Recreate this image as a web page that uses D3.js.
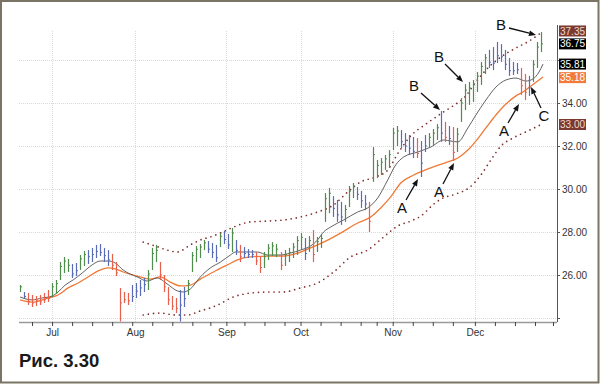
<!DOCTYPE html>
<html>
<head>
<meta charset="utf-8">
<script src="https://cdn.jsdelivr.net/npm/d3@7"></script>
<style>
  body { margin: 0; background: #fff; }
  text { font-family: "Liberation Sans", Arial, sans-serif; }
</style>
</head>
<body>
<div id="chart"></div>
<script>
// daily bars, late June .. mid December (index = trading day)
const highs = [
  25.53, 25.21, 25.16, 25.07, 25.02, 25.07, 25.16, 25.30, 25.63, 25.77,
  26.60, 26.84, 26.74, 26.51, 26.56, 26.93, 27.12, 27.16, 27.26, 27.40,
  27.44, 27.26, 27.16, 26.98, 26.60, 25.40, 25.21, 25.16, 25.53, 25.63,
  25.77, 25.86, 26.23, 27.26, 27.40, 26.60, 26.00, 25.44, 25.02, 24.93,
  25.30, 25.44, 25.77, 27.07, 27.35, 27.44, 27.63, 27.58, 27.49, 27.40,
  27.95, 28.05, 27.91, 28.19, 27.63, 27.40, 27.30, 27.21, 27.16, 27.07,
  26.88, 27.07, 27.44, 27.53, 27.44, 27.07, 27.16, 27.26, 27.49, 27.81,
  27.95, 27.72, 27.81, 28.09, 27.77, 27.91, 29.81, 30.05, 29.67, 29.49,
  29.40, 29.26, 30.14, 30.28, 30.09, 29.91, 29.72, 29.40, 31.95, 31.35,
  31.44, 31.58, 31.81, 32.84, 32.93, 32.74, 32.60, 32.51, 32.42, 32.37,
  32.23, 32.51, 32.60, 32.79, 33.02, 33.63, 33.12, 32.93, 32.88, 32.84,
  34.23, 34.88, 34.98, 35.07, 35.44, 35.91, 36.28, 36.47, 36.60, 36.84,
  36.74, 36.47, 36.09, 35.91, 35.86, 35.63, 35.35, 35.26, 36.00, 36.84, 37.30
];
const lows = [
  25.21, 24.93, 24.60, 24.51, 24.56, 24.60, 24.70, 24.74, 24.98, 25.12,
  25.77, 26.09, 26.14, 25.86, 25.95, 26.23, 26.42, 26.51, 26.60, 26.79,
  26.88, 26.60, 26.42, 26.23, 25.95, 23.81, 24.70, 24.60, 24.74, 24.93,
  25.02, 25.21, 25.30, 26.23, 26.60, 25.77, 25.21, 24.60, 24.37, 24.23,
  23.81, 24.51, 25.07, 26.14, 26.60, 26.79, 27.16, 27.02, 26.79, 26.60,
  27.30, 27.44, 27.21, 27.07, 26.93, 26.60, 26.79, 26.79, 26.79, 26.47,
  26.09, 26.33, 26.70, 26.88, 26.84, 26.23, 26.42, 26.60, 26.79, 26.93,
  27.16, 26.70, 27.07, 26.60, 27.07, 27.26, 28.47, 28.88, 28.70, 28.47,
  28.33, 28.47, 29.16, 29.58, 29.49, 29.12, 29.02, 28.00, 30.33, 30.51,
  30.65, 30.88, 30.98, 31.81, 32.00, 31.91, 31.72, 31.58, 31.44, 31.44,
  30.56, 31.72, 31.91, 32.05, 32.28, 32.19, 32.19, 32.05, 31.30, 31.72,
  33.12, 33.67, 33.91, 34.05, 34.51, 34.84, 35.35, 35.63, 35.53, 35.86,
  35.91, 35.53, 35.26, 35.30, 35.35, 34.37, 34.14, 34.33, 34.98, 35.63, 36.37
];
const closes = [
  25.45, 25.00, 24.75, 24.70, 24.80, 24.75, 24.85, 24.90, 25.45, 25.60,
  26.40, 26.65, 26.45, 26.05, 26.20, 26.75, 26.95, 26.85, 26.95, 27.10,
  27.05, 26.90, 26.70, 26.45, 26.10, 24.70, 24.85, 24.80, 25.00, 25.25,
  25.40, 25.55, 26.05, 27.00, 27.15, 26.00, 25.45, 24.85, 24.55, 24.45,
  24.60, 24.90, 25.60, 26.90, 27.20, 27.30, 27.50, 27.20, 27.05, 26.80,
  27.80, 27.65, 27.40, 27.95, 27.15, 26.85, 27.00, 26.95, 26.95, 26.65,
  26.35, 26.85, 27.25, 27.35, 27.20, 26.45, 26.95, 27.05, 27.30, 27.60,
  27.75, 27.00, 27.60, 26.95, 27.55, 27.70, 29.55, 29.80, 29.10, 28.80,
  28.70, 29.05, 29.90, 30.10, 29.75, 29.45, 29.30, 28.50, 31.60, 31.10,
  31.25, 31.40, 31.60, 32.60, 32.70, 32.20, 32.00, 31.90, 31.75, 31.65,
  31.20, 32.00, 32.40, 32.60, 32.85, 32.60, 32.40, 32.35, 31.70, 32.55,
  34.00, 34.60, 34.70, 34.85, 35.25, 35.70, 36.10, 35.90, 35.85, 36.20,
  36.15, 35.80, 35.50, 35.50, 35.55, 34.80, 34.50, 34.70, 35.80, 36.60, 36.75
];
// bar colour class: g = green, b = blue, r = red
const barClass = (
  "gbrrrrrrgg" + "gggbbggbbb" + "bbbrrrrrbb" + "bbgggrrrrr" +
  "bbgggggbbb" + "gbbgbrbbbr" + "rggggrgggg" + "gbgrggggbb" +
  "bgggbbbrgg" + "gggggbbbbr" + "bbgggbrbrg" + "gggggggbbb" +
  "bbbbbrrbggg"
).split("");

// moving averages, read as [bar index, price]
const maFast = [
  [0,24.98],[3,24.84],[5.5,24.93],[8,25.02],[9.5,25.21],[11.25,25.53],[13.25,25.77],
  [15.5,26.09],[18,26.47],[20,26.65],[22,26.65],[23.75,26.56],[25.75,26.23],
  [29.25,25.91],[31.75,25.72],[34.25,25.86],[36.75,25.58],[39.25,25.26],[40.75,25.21],
  [42.5,25.35],[45,25.91],[47.5,26.33],[50,26.60],[52.5,26.93],[53.75,27.07],
  [57.5,27.07],[59.25,27.07],[61.75,26.93],[65,26.93],[67.5,27.02],[70,27.16],
  [72.5,27.35],[74.25,27.63],[75.75,28.00],[77.5,28.23],[80.75,28.56],[84.25,28.93],
  [86.75,29.12],[89.25,29.58],[91.75,30.42],[93.75,31.12],[95.75,31.49],[99.25,31.72],
  [102.5,31.95],[105.75,32.28],[107.5,32.23],[109.25,32.19],[111.75,32.84],
  [113.75,33.44],[116.25,34.14],[118.75,34.74],[121.25,35.07],[123.75,35.16],
  [126.25,35.02],[128,35.12],[129.5,35.44],[130.5,35.81]
];
const maSlow = [
  [0,24.84],[3,24.74],[7,24.93],[9.5,25.07],[12,25.40],[14.5,25.63],[17,25.91],
  [19.5,26.19],[22,26.33],[23.75,26.28],[25.75,26.14],[29.25,25.95],[32.5,25.81],
  [35,25.91],[37.5,25.67],[40,25.49],[42.5,25.53],[45,25.81],[48.25,26.14],
  [51.75,26.47],[54.25,26.70],[57.5,26.84],[61.75,26.88],[65.75,26.88],[69.25,27.02],
  [72.5,27.26],[75.75,27.53],[80,27.95],[84.25,28.42],[87.5,28.70],[90,29.12],
  [92.5,29.63],[95,30.28],[98.25,30.65],[102.5,30.98],[106.75,31.26],[109.25,31.44],
  [111.75,31.81],[113.75,32.23],[116.25,32.84],[118.75,33.44],[121.25,33.95],
  [123.75,34.33],[125.5,34.51],[127.5,34.79],[130.5,35.21]
];
// envelope bands
const bandUpper = [
  [30.75,27.53],[33.75,27.35],[36.75,27.16],[39.25,27.07],[42.5,27.40],[45,27.63],
  [47.5,27.77],[50,27.95],[53.25,28.23],[57.5,28.47],[61.75,28.51],[65.75,28.56],
  [70,28.70],[74.25,28.93],[78.25,29.26],[81.75,29.86],[85,30.33],[88.75,30.56],
  [91.75,30.88],[94.5,31.72],[97.5,32.47],[101.25,33.02],[105.25,33.53],[108,33.86],
  [111,34.28],[113.75,34.98],[116.75,35.63],[120,36.14],[123.75,36.56],[127,36.88],
  [130.25,37.30]
];
const bandLower = [
  [30.75,24.14],[35,24.23],[38.75,24.14],[41.75,24.14],[45,24.33],[47.5,24.47],
  [49.25,24.60],[53.25,24.98],[57.5,25.16],[61.75,25.21],[65.75,25.21],[70,25.40],
  [74.25,25.63],[78.25,26.14],[82.5,26.84],[86.75,27.16],[90.75,27.77],[94.25,28.28],
  [97.5,28.51],[100,28.74],[103.25,29.30],[105,29.53],[108.75,29.77],[112,30.05],
  [115,30.65],[117.5,31.35],[120,32.00],[123,32.37],[126.75,32.70],[130.25,33.02]
];

const monthTicks = [8, 28.75, 51.5, 70, 93, 113.5];
const monthLabels = ["Jul", "Aug", "Sep", "Oct", "Nov", "Dec"];
const weekTicks = [3, 8, 13, 18, 23, 28, 33, 38, 43, 47.5, 51.5, 56, 61, 66, 70, 75,
                   80, 85, 89, 93, 98, 103, 108, 113.5, 118.5, 123.5, 128.5, 133];
const priceTicks = [24, 26, 28, 30, 32, 34, 36];
const priceTickLabels = ["", "26.00", "28.00", "30.00", "32.00", "34.00", ""];
const lastValues = [37.35, 36.75, 35.81, 35.18, 33.00];
const lastFills = ["#7a3a30", "#000", "#000", "#f27b3a", "#7a3a30"];
const lastTextFills = ["#f4d8cc", "#fff", "#fff", "#fff", "#f4d8cc"];

const W = 600, H = 384;
const pLeft = 19, pRight = 557, pTop = 31, pBottom = 322;
const barColor = { g: "#4f8d4c", b: "#5a6cb6", r: "#e8604c" };

const x = d3.scaleLinear().domain([0, 130]).range([20, 541]);
const y = d3.scaleLinear().domain([24, 34]).range([318, 103]);

const svg = d3.select("#chart").append("svg")
  .attr("width", W).attr("height", H);

svg.append("rect").attr("width", W).attr("height", H).attr("fill", "#fff");

svg.append("defs").append("clipPath").attr("id", "plot")
  .append("rect").attr("x", pLeft).attr("y", 0)
  .attr("width", pRight - pLeft).attr("height", pBottom - 0.5);

// grid
const grid = svg.append("g").attr("stroke", "#d9d9d9").attr("stroke-dasharray", "1,1");
grid.selectAll("line.h").data(priceTicks).enter().append("line")
  .attr("x1", pLeft).attr("x2", pRight)
  .attr("y1", d => y(d) + 0.5).attr("y2", d => y(d) + 0.5);
grid.selectAll("line.v").data(monthTicks).enter().append("line")
  .attr("x1", d => Math.round(x(d)) + 0.5).attr("x2", d => Math.round(x(d)) + 0.5)
  .attr("y1", pTop).attr("y2", pBottom);

const plot = svg.append("g").attr("clip-path", "url(#plot)");

// bands
const line = d3.line().x(d => x(d[0])).y(d => y(d[1])).curve(d3.curveMonotoneX);
[bandUpper, bandLower].forEach(b => {
  plot.append("path").attr("d", line(b))
    .attr("fill", "none").attr("stroke", "#7e2c2a")
    .attr("stroke-width", 1.7).attr("stroke-linecap", "round")
    .attr("stroke-dasharray", "0,5.2");
});

// moving averages
plot.append("path").attr("d", line(maSlow))
  .attr("fill", "none").attr("stroke", "#f07a36").attr("stroke-width", 1.3);
plot.append("path").attr("d", line(maFast))
  .attr("fill", "none").attr("stroke", "#505050").attr("stroke-width", 0.9);

// bars
const bars = plot.selectAll("g.bar").data(highs.map((h, i) => i)).enter()
  .append("g").attr("stroke", i => barColor[barClass[i]]);
bars.append("line")
  .attr("x1", i => Math.round(x(i)) + 0.5).attr("x2", i => Math.round(x(i)) + 0.5)
  .attr("y1", i => y(highs[i])).attr("y2", i => y(lows[i]))
  .attr("stroke-width", 1.2);
bars.append("line")
  .attr("x1", i => Math.round(x(i)) + 0.5).attr("x2", i => Math.round(x(i)) + 2)
  .attr("y1", i => y(closes[i])).attr("y2", i => y(closes[i]))
  .attr("stroke-width", 1);

// x axis
svg.append("line").attr("x1", pLeft).attr("x2", pRight)
  .attr("y1", pBottom + 0.5).attr("y2", pBottom + 0.5)
  .attr("stroke", "#9a9a9a").attr("stroke-width", 1.5);
const xWeek = svg.append("g").attr("transform", `translate(0,${pBottom})`)
  .call(d3.axisBottom(x).tickValues(weekTicks).tickFormat("").tickSize(4));
xWeek.select(".domain").remove();
xWeek.selectAll("line").attr("stroke", "#444");
const xMonth = svg.append("g").attr("transform", `translate(0,${pBottom})`)
  .call(d3.axisBottom(x).tickValues(monthTicks)
    .tickFormat((d, i) => monthLabels[i]).tickSize(0).tickPadding(7));
xMonth.select(".domain").remove();
xMonth.selectAll("text").attr("font-size", 10).attr("fill", "#333")
  .style("font-family", "'Liberation Sans', Arial, sans-serif");

// y axis on the right
svg.append("line").attr("x1", pRight + 0.5).attr("x2", pRight + 0.5)
  .attr("y1", 25).attr("y2", pBottom)
  .attr("stroke", "#555").attr("stroke-width", 1);
const yAx = svg.append("g").attr("transform", `translate(${pRight},0)`)
  .call(d3.axisRight(y).tickValues(priceTicks)
    .tickFormat((d, i) => priceTickLabels[i]).tickSize(3).tickPadding(2));
yAx.select(".domain").remove();
yAx.selectAll("line").attr("stroke", "#555");
yAx.selectAll("text").attr("font-size", 10).attr("fill", "#333")
  .style("font-family", "'Liberation Sans', Arial, sans-serif");

// last value flags
const flags = svg.append("g").selectAll("g").data(lastValues).enter().append("g")
  .attr("transform", d => `translate(${pRight + 2},${y(d)})`);
flags.append("rect").attr("x", 0).attr("y", -5.5).attr("width", 27).attr("height", 11)
  .attr("fill", (d, i) => lastFills[i]);
flags.append("text").attr("x", 13.5).attr("y", 0).attr("dy", "0.36em")
  .attr("text-anchor", "middle").attr("font-size", 10)
  .attr("fill", (d, i) => lastTextFills[i]).text(d => d.toFixed(2));

// annotations (pixel layout)
const notes = [
  { t: "B", x: 501, y: 25, from: [509, 28], to: [536, 35] },
  { t: "B", x: 439, y: 57, from: [445, 64], to: [463, 82] },
  { t: "B", x: 414, y: 86, from: [421, 93], to: [440, 110] },
  { t: "A", x: 402, y: 208, from: [406, 200], to: [418, 179] },
  { t: "A", x: 439, y: 192, from: [443, 184], to: [454, 163] },
  { t: "A", x: 504, y: 131, from: [508, 123], to: [519, 104] },
  { t: "C", x: 544, y: 116, from: [541, 108], to: [531, 87] }
];
const ann = svg.append("g");
notes.forEach(n => {
  const dx = n.to[0] - n.from[0], dy = n.to[1] - n.from[1];
  const len = Math.hypot(dx, dy), ux = dx / len, uy = dy / len;
  const hl = 7, hw = 2.8;
  const bx = n.to[0] - ux * hl, by = n.to[1] - uy * hl;
  ann.append("line").attr("x1", n.from[0]).attr("y1", n.from[1])
    .attr("x2", bx).attr("y2", by).attr("stroke", "#111").attr("stroke-width", 1.3);
  ann.append("path")
    .attr("d", `M${n.to[0]},${n.to[1]}L${bx - uy * hw},${by + ux * hw}L${bx + uy * hw},${by - ux * hw}Z`)
    .attr("fill", "#111");
  ann.append("text").attr("x", n.x).attr("y", n.y).attr("dy", "0.36em")
    .attr("text-anchor", "middle").attr("font-size", 15).attr("fill", "#111").text(n.t);
});

// caption
svg.append("text").attr("x", 19).attr("y", 367)
  .attr("font-size", 18.5).attr("font-weight", "bold").attr("fill", "#1a1a1a")
  .text("Рис. 3.30");

// frame
svg.append("rect").attr("x", 1).attr("y", 1).attr("width", W - 2.5).attr("height", H - 2.5)
  .attr("fill", "none").attr("stroke", "#7a7464").attr("stroke-width", 2);
</script>
</body>
</html>
